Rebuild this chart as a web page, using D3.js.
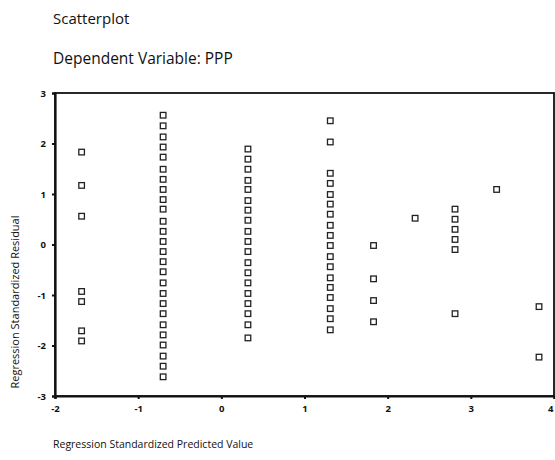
<!DOCTYPE html>
<html><head><meta charset="utf-8">
<script src="https://cdn.jsdelivr.net/npm/d3@7"></script>
<style>
body{margin:0;background:#fff;}
svg{display:block;}
text{font-family:"Open Sans","DejaVu Sans",sans-serif;fill:#111;}
</style></head>
<body>
<svg id="c" width="555" height="460"></svg>
<script>
const title = "Scatterplot";
const subtitle = "Dependent Variable: PPP";
const xLabel = "Regression Standardized Predicted Value";
const yLabel = "Regression Standardized Residual";
const xTicks = [-2, -1, 0, 1, 2, 3, 4];
const yTicks = [-3, -2, -1, 0, 1, 2, 3];

// predicted value (x) of each column, residuals (y) in that column
const colX = [-1.68, -0.70, 0.32, 1.31, 1.83, 2.33, 2.81, 3.31, 3.82];
const col1 = [1.83, 1.17, 0.56, -0.93, -1.13, -1.71, -1.91];
const col2 = [2.56, 2.35, 2.13, 1.93, 1.73, 1.49, 1.29, 1.09, 0.89, 0.70, 0.46, 0.26, 0.06, -0.14, -0.34, -0.54, -0.76, -0.97, -1.17, -1.37, -1.59, -1.79, -1.99, -2.21, -2.41, -2.62];
const col3 = [1.89, 1.69, 1.49, 1.27, 1.09, 0.87, 0.68, 0.48, 0.26, 0.06, -0.14, -0.36, -0.56, -0.76, -0.97, -1.17, -1.37, -1.59, -1.85];
const col4 = [2.45, 2.03, 1.41, 1.21, 0.99, 0.80, 0.60, 0.38, 0.18, -0.02, -0.24, -0.44, -0.66, -0.85, -1.05, -1.27, -1.47, -1.69];
const col5 = [-0.02, -0.68, -1.11, -1.53];
const col6 = [0.52];
const col7 = [0.70, 0.50, 0.30, 0.10, -0.10, -1.37];
const col8 = [1.09];
const col9 = [-1.23, -2.23];
const columns = [col1, col2, col3, col4, col5, col6, col7, col8, col9];

const points = [];
columns.forEach((c, i) => c.forEach(v => points.push({x: colX[i], y: v})));

const svg = d3.select("#c");
const L = 55, R = 554, T = 93, B = 396;
const x = d3.scaleLinear().domain([-2, 4]).range([L, R]);
const y = d3.scaleLinear().domain([-3, 3]).range([B, T]);

svg.append("text").attr("x", 53).attr("y", 24).attr("font-size", 15).text(title);
svg.append("text").attr("x", 53).attr("y", 64).attr("font-size", 15.5).text(subtitle);

// frame
svg.append("rect").attr("x", L).attr("y", T).attr("width", R - L).attr("height", B - T)
  .attr("fill", "none").attr("stroke", "#111").attr("stroke-width", 1.8);

const fmt = d => d === 0 ? "0" : (d < 0 ? "-" + Math.abs(d) : String(d));

const yAxis = svg.append("g").attr("transform", `translate(${L},0)`)
  .call(d3.axisLeft(y).tickValues(yTicks).tickSize(3).tickPadding(6).tickFormat(fmt));
const xAxis = svg.append("g").attr("transform", `translate(0,${B})`)
  .call(d3.axisBottom(x).tickValues(xTicks).tickSize(3).tickPadding(6).tickFormat(fmt));
[xAxis, yAxis].forEach(g => {
  g.select(".domain").attr("stroke", "#111").attr("stroke-width", 2.2);
  g.selectAll(".tick line").attr("stroke", "#111").attr("stroke-width", 2);
  g.selectAll(".tick text").attr("font-size", 9.5).attr("font-weight", "bold")
    .attr("font-family", "'Open Sans', sans-serif").attr("fill", "#111");
});
// last x tick label sits at the right edge of the picture
xAxis.selectAll(".tick text").filter(d => d === 4).attr("text-anchor", "end").attr("dx", -1);

svg.append("g").selectAll("rect").data(points).join("rect")
  .attr("x", d => x(d.x) - 2.8).attr("y", d => y(d.y) - 2.8)
  .attr("width", 5.6).attr("height", 5.6)
  .attr("fill", "#fff").attr("stroke", "#222").attr("stroke-width", 1.3);

svg.append("text").attr("x", 53).attr("y", 448).attr("font-size", 10.5).text(xLabel);
svg.append("text").attr("transform", "translate(19,302) rotate(-90)")
  .attr("text-anchor", "middle").attr("font-size", 11).text(yLabel);
</script>
</body></html>
